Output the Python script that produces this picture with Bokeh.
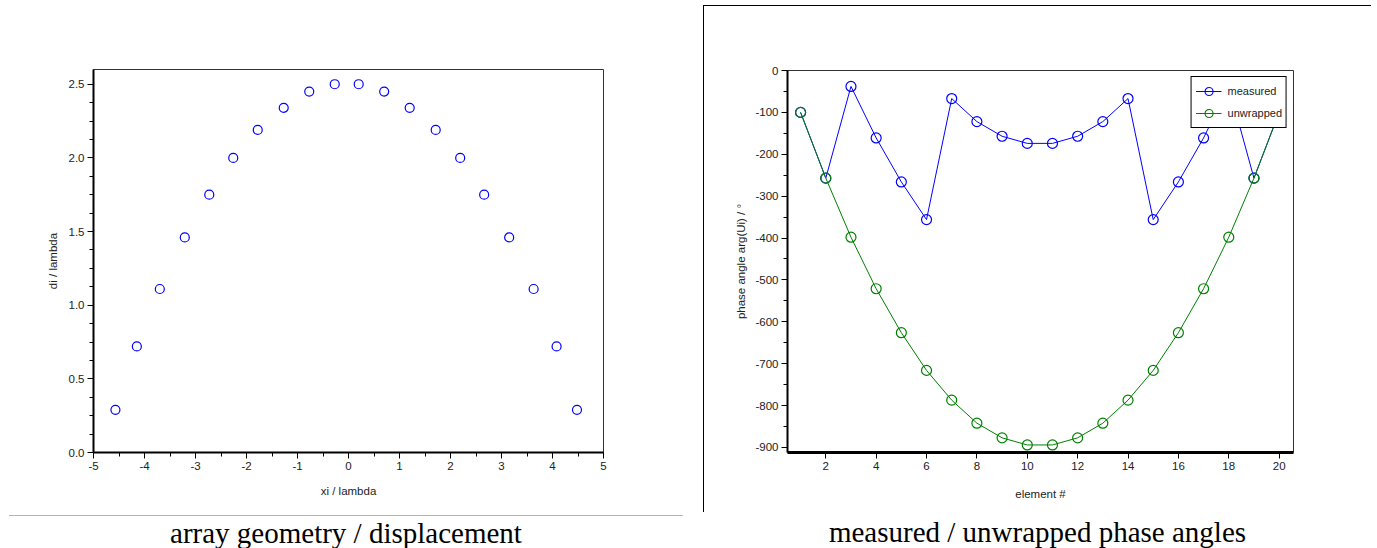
from bokeh.plotting import figure
from bokeh.models import (Range1d, Div, Legend, LegendItem, SingleIntervalTicker,
                          NumeralTickFormatter)
from bokeh.layouts import row, column
from bokeh.embed import file_html
from bokeh.resources import INLINE

# ---------------- data ----------------
# left panel: array geometry
xi = [-4.57, -4.15, -3.70, -3.21, -2.73, -2.26, -1.78, -1.27, -0.77, -0.27,
      0.20, 0.70, 1.20, 1.71, 2.19, 2.66, 3.15, 3.63, 4.08, 4.48]
di = [0.29, 0.72, 1.11, 1.46, 1.75, 2.00, 2.19, 2.34, 2.45, 2.50,
      2.50, 2.45, 2.34, 2.19, 2.00, 1.75, 1.46, 1.11, 0.72, 0.29]

# right panel: phase angles
element = list(range(1, 21))
measured = [-100, -257, -38, -161, -266, -356, -67, -122, -157, -174,
            -174, -157, -122, -67, -356, -266, -161, -38, -257, -100]
unwrapped = [-100, -257, -398, -521, -626, -716, -787, -842, -877, -894,
             -894, -877, -842, -787, -716, -626, -521, -398, -257, -100]

caption_left = "array geometry / displacement"
caption_right = "measured / unwrapped phase angles"

FONT = "Liberation Sans"
TXT = "#222222"


def style_axis(ax, label):
    ax.axis_label = label
    ax.axis_label_text_font = FONT
    ax.axis_label_text_font_size = "11.5px"
    ax.axis_label_text_font_style = "normal"
    ax.axis_label_text_color = TXT
    ax.major_label_text_font = FONT
    ax.major_label_text_font_size = "11.5px"
    ax.major_label_text_color = TXT
    ax.axis_line_color = "black"
    ax.axis_line_width = 2
    ax.major_tick_line_color = "black"
    ax.minor_tick_line_color = "black"
    ax.major_tick_in = 0
    ax.major_tick_out = 6
    ax.minor_tick_in = 0
    ax.minor_tick_out = 4


# ---------------- left figure ----------------
pL = figure(width=703, height=515, x_range=Range1d(-5, 5), y_range=Range1d(0, 2.6),
            output_backend="svg", toolbar_location=None,
            min_border_left=93, min_border_right=100,
            min_border_top=69, min_border_bottom=63)
pL.grid.visible = False
pL.outline_line_color = "#333333"
pL.outline_line_width = 1
pL.xaxis.ticker = SingleIntervalTicker(interval=1, num_minor_ticks=2)
pL.yaxis.ticker = SingleIntervalTicker(interval=0.5, num_minor_ticks=4)
pL.xaxis.formatter = NumeralTickFormatter(format="0")
pL.yaxis.formatter = NumeralTickFormatter(format="0.0")
style_axis(pL.xaxis[0], "xi / lambda")
style_axis(pL.yaxis[0], "di / lambda")
pL.xaxis.major_label_standoff = 3
pL.xaxis.axis_label_standoff = 12
pL.yaxis.major_label_standoff = 3
pL.yaxis.axis_label_standoff = 7
pL.scatter(xi, di, size=9, fill_color=None, line_color="#0000ff", line_width=1.2)

# ---------------- right figure ----------------
pR = figure(width=668, height=507, x_range=Range1d(0.48, 20.57), y_range=Range1d(-912, 0),
            output_backend="svg", toolbar_location=None,
            min_border_left=83, min_border_right=79,
            min_border_top=64, min_border_bottom=61,
            styles={"border-left": "1px solid black", "border-top": "1px solid black"})
pR.grid.visible = False
pR.outline_line_color = "#333333"
pR.outline_line_width = 1
pR.xaxis.ticker = SingleIntervalTicker(interval=2, num_minor_ticks=0)
pR.yaxis.ticker = SingleIntervalTicker(interval=100, num_minor_ticks=2)
pR.xaxis.formatter = NumeralTickFormatter(format="0")
pR.yaxis.formatter = NumeralTickFormatter(format="0")
style_axis(pR.xaxis[0], "element #")
style_axis(pR.yaxis[0], "phase angle arg(Ui) / °")
pR.xaxis.axis_line_width = 3
pR.xaxis.major_label_standoff = 3
pR.xaxis.axis_label_standoff = 15
pR.yaxis.major_label_standoff = 3
pR.yaxis.axis_label_standoff = 5

lm = pR.line(element, measured, line_color="#0000ff", line_width=1)
sm = pR.scatter(element, measured, size=10, fill_color=None, line_color="#0000ff", line_width=1.2)
lu = pR.line(element, unwrapped, line_color="#008000", line_width=1)
su = pR.scatter(element, unwrapped, size=10, fill_color=None, line_color="#008000", line_width=1.2)

legend = Legend(items=[LegendItem(label="measured", renderers=[lm, sm]),
                       LegendItem(label="unwrapped", renderers=[lu, su])],
                location="top_right", margin=6, padding=4, spacing=2,
                label_height=20, glyph_height=20, glyph_width=26, label_standoff=6,
                label_text_font=FONT, label_text_font_size="11px", label_text_color=TXT,
                border_line_color="black", border_line_width=1, border_line_alpha=1,
                background_fill_color="white", background_fill_alpha=1)
pR.add_layout(legend)

# ---------------- captions ----------------
cap_style = ("font-family:'Liberation Serif','Times New Roman',serif;font-size:29px;"
             "line-height:29px;text-align:center;color:#000;white-space:nowrap;")
divL = Div(text=f'<div style="margin-left:9px;width:674px;border-top:1px solid #b4b4b4;'
                f'padding-top:3px;{cap_style}">{caption_left}</div>',
           width=703, height=32, margin=0, styles={"overflow": "visible"})
spacer = Div(text="", width=669, height=5, margin=0)
divR = Div(text=f'<div style="width:669px;padding-top:6px;{cap_style}">{caption_right}</div>',
           width=669, height=34, margin=0, styles={"overflow": "visible"})

layout = row(column(pL, divL, spacing=0), column(spacer, pR, divR, spacing=0), spacing=0)

open("out.html", "w").write(file_html(layout, INLINE))
